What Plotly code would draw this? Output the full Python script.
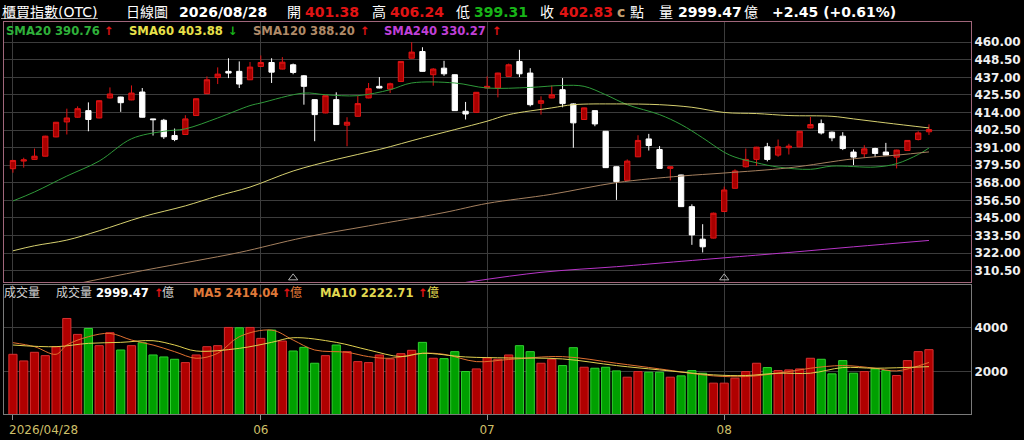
"""OTC index daily candlestick chart with volume panel."""

import plotly.graph_objects as go

# ---- data ----
opens = [377.2, 382.2, 383.3, 385.4, 398.0, 407.8, 410.9, 415.2, 410.4, 423.5,
         424.1, 422.2, 427.4, 409.8, 408.9, 398.9, 399.6, 412.0, 426.3, 436.9,
         440.9, 440.9, 435.4, 444.1, 446.7, 442.4, 445.2, 438.0, 422.4, 413.7,
         422.4, 405.7, 411.5, 423.5, 431.1, 429.3, 434.3, 449.5, 453.9, 438.7,
         443.0, 438.7, 414.8, 414.1, 430.0, 430.0, 437.6, 447.4, 439.8, 420.0,
         423.5, 428.9, 419.6, 409.4, 415.2, 401.7, 378.5, 369.6, 385.0, 396.7,
         389.8, 377.4, 373.1, 352.4, 331.1, 331.8, 349.2, 364.4, 378.5, 383.3,
         391.5, 386.1, 390.9, 391.5, 403.9, 406.7, 401.1, 398.5, 388.1, 387.0,
         390.4, 388.1, 384.8, 389.1, 396.3, 401.38]
highs = [383.0, 384.4, 390.4, 398.8, 407.8, 416.5, 418.0, 420.6, 422.0, 430.4,
         424.3, 431.7, 430.0, 409.9, 409.8, 403.5, 412.2, 423.2, 437.6, 443.5,
         449.5, 447.4, 447.0, 451.3, 449.5, 450.2, 446.0, 438.5, 422.6, 425.2,
         427.2, 410.9, 425.0, 433.3, 437.2, 433.5, 447.6, 460.0, 456.7, 443.0,
         447.8, 438.9, 420.9, 427.4, 437.6, 440.0, 446.0, 455.0, 443.0, 424.6,
         431.7, 436.5, 420.0, 417.2, 415.4, 401.9, 378.7, 383.3, 399.1, 400.0,
         392.0, 378.7, 373.3, 353.9, 340.9, 348.5, 365.5, 376.8, 390.4, 391.5,
         394.1, 396.3, 393.5, 401.9, 411.1, 409.4, 401.5, 401.1, 389.8, 392.6,
         390.9, 394.1, 389.6, 395.9, 401.7, 406.24]
lows = [374.6, 377.9, 383.0, 385.2, 397.8, 399.6, 410.6, 401.7, 410.2, 423.2,
        414.4, 422.0, 410.7, 398.9, 396.7, 395.2, 399.4, 411.8, 426.1, 432.6,
        436.5, 430.0, 435.2, 443.9, 433.3, 442.2, 439.0, 419.1, 395.2, 413.5,
        405.9, 391.9, 411.3, 423.3, 429.8, 426.7, 434.1, 449.3, 440.7, 431.5,
        438.0, 415.0, 409.4, 413.9, 429.8, 423.9, 437.4, 437.2, 418.0, 412.6,
        423.3, 417.4, 390.9, 409.2, 405.0, 377.7, 356.8, 369.4, 384.8, 389.1,
        377.2, 369.6, 352.2, 327.4, 322.4, 331.6, 349.0, 364.2, 378.0, 379.0,
        382.0, 385.0, 386.5, 391.3, 403.7, 399.6, 395.2, 389.4, 379.6, 384.4,
        384.8, 386.0, 377.4, 388.9, 395.7, 399.31]
closes = [382.6, 383.0, 385.4, 398.5, 407.6, 410.4, 416.5, 409.4, 421.7, 426.1,
          420.4, 426.7, 410.9, 409.3, 398.1, 396.3, 409.8, 423.0, 435.4, 439.1,
          439.8, 432.6, 443.7, 446.7, 440.4, 446.9, 440.2, 431.1, 412.6, 425.0,
          406.1, 407.6, 419.8, 429.6, 430.0, 432.8, 447.4, 453.5, 440.9, 442.4,
          439.3, 415.2, 413.0, 427.2, 431.1, 439.8, 445.2, 439.3, 419.1, 421.7,
          425.6, 419.8, 407.2, 417.0, 406.5, 377.9, 368.7, 382.2, 395.7, 392.4,
          377.4, 378.5, 352.4, 333.9, 326.1, 348.1, 363.3, 375.7, 383.3, 391.3,
          383.3, 391.5, 392.0, 401.7, 406.1, 400.6, 397.4, 390.4, 384.8, 390.2,
          387.2, 386.1, 389.4, 395.7, 400.6, 402.83]

volumes = [2787, 2484, 2878, 2726, 3135, 4423, 3696, 3968, 3181, 3772,
           2984, 3181, 3317, 2757, 2666, 2560, 2408, 2757, 3135, 3181,
           4014, 3999, 4014, 3514, 3893, 3393, 2938, 3105, 2378, 2726,
           3211, 2908, 2453, 2408, 2757, 2575, 2817, 2969, 3332, 2605,
           2590, 2908, 2000, 2120, 2635, 2560, 2757, 3181, 2908, 2378,
           2560, 2272, 3090, 2196, 2151, 2196, 2029, 1741, 1999, 1969,
           1969, 1741, 1802, 2044, 1923, 1469, 1469, 1696, 1999, 2378,
           2181, 2044, 2075, 2120, 2605, 2560, 1893, 2499, 1923, 1999,
           2120, 2044, 1817, 2499, 2908, 2999.47]
# r = up vs previous close, g = down
vol_dir = list("rrrrrrrgrr" "grggggrrrr" "rgrrgrgggr" "grrrrrrrgr" "gggrrrrggr"
               "rggrgggrrg" "grgggrrrrr" "grrrrggggr" "ggrrrr")

# moving averages: (bar index, value)
sma20_x = [0, 2, 5, 8, 11, 14, 16, 19, 22, 23, 27, 29, 32, 35, 37, 41, 44, 48,
           51, 53, 55, 57, 60, 62, 64, 66, 67, 69, 71, 74, 76, 80, 82, 84, 85]
sma20_y = [356.1, 362.0, 372.4, 382.2, 396.8, 401.7, 403.3, 410.4, 418.5, 420.2,
           426.7, 425.6, 425.0, 428.9, 433.3, 433.3, 430.0, 430.4, 431.7, 431.1,
           425.6, 419.1, 412.6, 406.1, 397.4, 388.0, 384.8, 381.1, 378.3, 376.8,
           378.9, 378.3, 380.5, 386.5, 390.76]
sma60_x = [0, 2, 5, 8, 12, 16, 19, 22, 26, 30, 34, 38, 41, 44, 46, 50, 52, 56,
           60, 63, 66, 69, 72, 76, 78, 81, 85]
sma60_y = [323.5, 326.8, 330.5, 336.6, 345.7, 352.9, 359.4, 365.2, 375.7, 383.3,
           389.8, 397.4, 402.8, 408.3, 412.6, 417.0, 419.1, 419.6, 419.1, 417.4,
           414.0, 413.3, 412.0, 411.5, 409.8, 407.2, 403.88]
sma120_x = [0, 6, 12, 17, 21, 27, 33, 40, 44, 50, 56, 62, 66, 72, 78, 82, 85]
sma120_y = [293.0, 302.0, 310.5, 317.0, 322.4, 332.2, 339.8, 348.5, 354.5, 360.5,
            368.1, 372.4, 374.4, 377.8, 383.7, 386.1, 388.20]
sma240_x = [42, 49, 56, 62, 66, 72, 78, 85]
sma240_y = [302.8, 309.4, 313.1, 316.6, 318.9, 322.4, 326.1, 330.27]

ma5_x = [0, 2, 4, 5, 7, 9, 11, 13, 15, 17, 19, 21, 24, 26, 28, 31, 33, 35, 38,
         40, 43, 46, 51, 56, 60, 65, 68, 71, 74, 77, 80, 82, 85]
ma5_y = [3317, 3135, 2787, 3211, 3590, 3741, 3438, 3211, 2908, 2605, 2832, 3590,
         3893, 3438, 2984, 2878, 2681, 2605, 2832, 2787, 2453, 2550, 2681, 2378,
         2120, 1802, 1772, 1923, 2151, 2272, 2151, 2029, 2414.04]
ma10_x = [0, 4, 7, 10, 13, 15, 17, 21, 24, 26, 30, 33, 36, 38, 42, 46, 51, 56,
          60, 65, 68, 71, 74, 77, 80, 85]
ma10_y = [3211, 3135, 3287, 3332, 3408, 3211, 2938, 3059, 3332, 3544, 3332, 2984,
          2681, 2832, 2666, 2620, 2575, 2272, 2075, 1848, 1817, 1923, 1923, 2181,
          2151, 2222.71]

price_ticks = [460.00, 448.50, 437.00, 425.50, 414.00, 402.50, 391.00, 379.50,
               368.00, 356.50, 345.00, 333.50, 322.00, 310.50]
volume_ticks = [2000, 4000]
month_idx = [0, 23, 44, 66]
month_labels = ["2026/04/28", "06", "07", "08"]
marker_idx = [26, 66]

idx = list(range(len(closes)))

# ---- styling ----
BG = "black"
GRID = "#3c3c3c"
PINK = "#a0667a"
FRAME2 = "#7a7a7a"
RED = "#e01414"
RED_FILL = "#a80000"
GREEN = "#18b418"
FONT = "DejaVu Sans, Noto Sans CJK TC, sans-serif"

W, H = 1024, 440
L, R, T, B = 3, 52, 22, 24
PW, PH = W - L - R, H - T - B


def px(x):
    return (x - L) / PW


def py(y):
    return (H - B - y) / PH


fig = go.Figure()

fig.add_trace(go.Candlestick(
    x=idx, open=opens, high=highs, low=lows, close=closes,
    increasing=dict(line=dict(color=RED, width=1), fillcolor=RED_FILL),
    decreasing=dict(line=dict(color="#ffffff", width=1), fillcolor="#ffffff"),
    whiskerwidth=0, xaxis="x", yaxis="y", hoverinfo="skip",
))

for xs, ys, col in [(sma20_x, sma20_y, "#2f9a3a"), (sma60_x, sma60_y, "#d6d070"),
                    (sma120_x, sma120_y, "#a5805f"), (sma240_x, sma240_y, "#b835c8")]:
    fig.add_trace(go.Scatter(x=xs, y=ys, mode="lines", line=dict(color=col, width=1, shape="spline"),
                             xaxis="x", yaxis="y", hoverinfo="skip"))

fig.add_trace(go.Scatter(
    x=marker_idx, y=[305.8] * len(marker_idx), mode="markers",
    marker=dict(symbol="triangle-up-open", size=8, color="#b0b0b0", line=dict(width=1)),
    xaxis="x", yaxis="y", hoverinfo="skip",
))

bar_fill = ["#b00000" if d == "r" else "#00a000" for d in vol_dir]
bar_edge = ["#d83030" if d == "r" else "#30d030" for d in vol_dir]
fig.add_trace(go.Bar(
    x=idx, y=volumes, width=0.76,
    marker=dict(color=bar_fill, line=dict(color=bar_edge, width=1)),
    xaxis="x2", yaxis="y2", hoverinfo="skip",
))
fig.add_trace(go.Scatter(x=ma5_x, y=ma5_y, mode="lines",
                         line=dict(color="#e07030", width=1, shape="spline"),
                         xaxis="x2", yaxis="y2", hoverinfo="skip"))
fig.add_trace(go.Scatter(x=ma10_x, y=ma10_y, mode="lines",
                         line=dict(color="#e0d050", width=1, shape="spline"),
                         xaxis="x2", yaxis="y2", hoverinfo="skip"))

xrange = [-0.83, 88.9]
fig.update_layout(
    width=W, height=H, margin=dict(l=L, r=R, t=T, b=B),
    paper_bgcolor=BG, plot_bgcolor=BG, showlegend=False,
    font=dict(family=FONT, color="white", size=12),
    xaxis=dict(domain=[0, 1], anchor="y", range=xrange, rangeslider=dict(visible=False),
               tickvals=month_idx, showticklabels=False, ticks="",
               showgrid=True, gridcolor=GRID, gridwidth=1, zeroline=False,
               showline=True, linecolor=PINK, linewidth=1, mirror=True),
    yaxis=dict(domain=[py(283.3), 1], anchor="x", side="right", range=[303.1, 473.2],
               tickvals=price_ticks, ticktext=[f"{v:.2f}" for v in price_ticks],
               tickfont=dict(size=12, weight="bold", color="#f0f0f0"),
               showgrid=True, gridcolor=GRID, zeroline=False,
               showline=True, linecolor=PINK, linewidth=1, mirror=True),
    xaxis2=dict(domain=[0, 1], anchor="y2", range=xrange, matches="x",
                tickvals=month_idx, ticktext=[""] + month_labels[1:],
                ticks="outside", ticklen=5, tickcolor="#909090",
                tickfont=dict(size=12, color="#cdbf68"),
                showgrid=True, gridcolor=GRID, zeroline=False,
                showline=True, linecolor=FRAME2, linewidth=1, mirror=True),
    yaxis2=dict(domain=[0, py(286)], anchor="x2", side="right", range=[60, 5968],
                tickvals=volume_ticks, ticktext=[str(v) for v in volume_ticks],
                tickfont=dict(size=12, weight="bold", color="#f0f0f0"),
                showgrid=True, gridcolor=GRID, zeroline=False,
                showline=True, linecolor=FRAME2, linewidth=1, mirror=True),
)

ann = []


def label(x, y, text, color="white", size=14, bold=False):
    ann.append(dict(x=px(x), y=py(y), xref="paper", yref="paper", text=text,
                    xanchor="left", yanchor="middle", showarrow=False,
                    font=dict(family=FONT, size=size, color=color,
                              weight="bold" if bold else "normal")))


# header row
HY = 12
label(-1, HY, "櫃買指數(OTC)", size=14)
label(123, HY, "日線圖", size=14)
label(176, HY, "2026/08/28", size=14, bold=True)
label(285, HY, "開", size=14)
label(303, HY, f"{opens[-1]:.2f}", RED, 14, True)
label(370, HY, "高", size=14)
label(388, HY, f"{highs[-1]:.2f}", RED, 14, True)
label(454, HY, "低", size=14)
label(472, HY, f"{lows[-1]:.2f}", GREEN, 14, True)
label(538, HY, "收", size=14)
label(557, HY, f"{closes[-1]:.2f}", RED, 14, True)
label(615, HY, "c", "#c0a070", 14, True)
label(628, HY, "點", size=14)
label(657, HY, "量", size=14)
label(676, HY, f"{volumes[-1]:.2f}", size=14, bold=True)
label(743, HY, "億", size=14)
label(771, HY, "+2.45 (+0.61%)", size=14, bold=True)

# price legend
LS = 11.6
label(3, 31, f"SMA20 {sma20_y[-1]:.2f}", "#2fb03a", LS, True)
label(101, 31, "↑", RED, LS, True)
label(126, 31, f"SMA60 {sma60_y[-1]:.2f}", "#e8e04a", LS, True)
label(225, 31, "↓", GREEN, LS, True)
label(251, 31, f"SMA120 {sma120_y[-1]:.2f}", "#b08a68", LS, True)
label(358, 31, "↑", RED, LS, True)
label(382, 31, f"SMA240 {sma240_y[-1]:.2f}", "#c040d8", LS, True)
label(490, 31, "↑", RED, LS, True)

# volume legend
label(1, 294, "成交量", "#d0d0d0", 12)
label(53, 294, "成交量", "#d0d0d0", 12)
label(93, 294, f"{volumes[-1]:.2f}", "white", LS, True)
label(151, 294, "↑", RED, LS, True)
label(159, 294, "億", "#d0d0d0", 12)
label(190, 294, f"MA5 {ma5_y[-1]:.2f}", "#e07a3a", LS, True)
label(280, 294, "↑", RED, LS, True)
label(288, 294, "億", "#e07a3a", 12)
label(318, 294, f"MA10 {ma10_y[-1]:.2f}", "#e0d850", LS, True)
label(416, 294, "↑", RED, LS, True)
label(425, 294, "億", "#e0d850", 12)

# first date label sits to the right of its tick
ann.append(dict(x=month_idx[0], y=py(432), xref="x2", yref="paper", text=month_labels[0],
                xanchor="left", yanchor="middle", xshift=-6, showarrow=False,
                font=dict(family=FONT, size=12, color="#cdbf68")))

fig.update_layout(annotations=ann)
fig.add_shape(type="line", xref="paper", yref="paper", x0=px(0), x1=px(97),
              y0=py(18.5), y1=py(18.5), line=dict(color="#b0b0b0", width=1))

# the page's default body margin would push the figure off the window
fig.write_html("out.html", config={"displayModeBar": False},
               post_script="document.body.style.margin='0';")
